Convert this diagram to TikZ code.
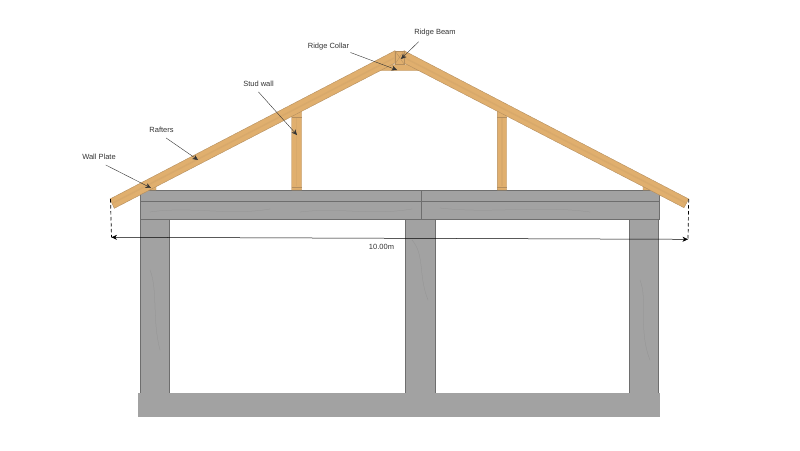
\documentclass[tikz,border=0pt]{standalone}
\usepackage{fontspec}
\setmainfont{Liberation Sans}
\usetikzlibrary{arrows.meta}
\definecolor{wood}{HTML}{E0AF6E}
\definecolor{woodedge}{HTML}{B48E5E}
\definecolor{concrete}{HTML}{A2A2A2}
\definecolor{concreteedge}{HTML}{6E6E6E}

\begin{document}
\begin{tikzpicture}[%
x=1pt,y=-1pt,
>={Stealth[length=5.5pt,width=5pt]},
timber/.style={draw=woodedge,line width=0.4pt,fill=wood},
grain/.style={draw=woodedge!18!wood,line width=1.5pt},
slab/.style={draw=concreteedge,line width=0.5pt,fill=concrete},
seam/.style={draw=concreteedge,line width=0.7pt},
crack/.style={draw=concreteedge!30!concrete,line width=0.25pt},
callout/.style={font=\fontsize{7.5}{9}\selectfont,text=black!80,inner xsep=1pt,inner ysep=5pt},
leader/.style={->,line width=0.4pt,black!80},
endline/.style={line width=0.7pt,dash pattern=on 3.5pt off 2.5pt}
]
\useasboundingbox (0,0) rectangle (800,450);

% concrete frame
\path[slab] (140,219) rectangle (169,393);
\path[slab] (405,219) rectangle (435,393);
\path[slab] (629,219) rectangle (658,393);
\path[slab] (140,190) rectangle (659,219);
\path[slab,draw=none] (138,393) rectangle (660,416.5);
\draw[seam] (140,201) -- (659,201);
\draw[seam] (421,190) -- (421,219);
\draw[crack] (150,212) .. controls (190,206) and (230,216) .. (270,209);
\draw[crack] (300,212) .. controls (340,207) and (370,216) .. (412,209);
\draw[crack] (440,208) .. controls (490,214) and (540,205) .. (590,212);
\draw[crack] (412,240) .. controls (425,255) and (418,275) .. (428,300);
\draw[crack] (150,270) .. controls (158,290) and (152,320) .. (160,350);
\draw[crack] (640,280) .. controls (648,300) and (638,330) .. (650,360);

% wall plates
\path[timber] (146,190) -- (156,184.5) -- (156,190) -- cycle;
\path[timber] (643,190) -- (643,185) -- (652,190) -- cycle;

% studs
\path[timber] (291.7,190) -- (291.7,115) -- (301.7,110) -- (301.7,190) -- cycle;
\path[timber] (497.3,190) -- (497.3,110) -- (506.7,115) -- (506.7,190) -- cycle;
\draw[grain] (296.7,118) -- (296.7,186);
\draw[grain] (502,118) -- (502,186);
\draw[woodedge] (291.7,117) -- (301.7,117) (291.7,187) -- (301.7,187);
\draw[woodedge] (497.3,117) -- (506.7,117) (497.3,187) -- (506.7,187);

% ridge
\path[timber] (377.7,70.7) -- (389,64.5) -- (408,64.5) -- (419.3,70.7) -- cycle;
\path[timber] (110,199) -- (395,50.7) -- (395,63) -- (114.3,208.3) -- cycle;
\path[timber] (404,50.7) -- (688.7,199) -- (684,207.7) -- (404,63) -- cycle;
\draw[grain] (113,203) -- (394,58);
\draw[grain] (405,58) -- (686,203);
\path[timber] (395,50.7) rectangle (404,64);
\draw[woodedge,line width=0.3pt] (395,50.7) -- (404,64) (404,50.7) -- (395,64);

% overall span
\coordinate (spanL) at (111.5,237.3);
\coordinate (spanR) at (688,239.3);
\coordinate (eaveL) at (110.5,199);
\coordinate (eaveR) at (688.7,199);
\draw[endline] (eaveL) -- (spanL);
\draw[endline] (eaveR) -- (spanR);
\draw[<->,line width=0.5pt] (spanL) -- (spanR);
\node[callout] (span) at (381.5,246.5) {10.00m};

% labels
\node[callout] (wallplate) at (99,157) {Wall Plate};
\node[callout] (rafters) at (161.5,130) {Rafters};
\node[callout] (studwall) at (258.5,84) {Stud wall};
\node[callout] (ridgecollar) at (328.5,47) {Ridge Collar};
\node[callout] (ridgebeam) at (435,33) {Ridge Beam};

\coordinate (wallplatetip) at (151,188);
\coordinate (raftertip) at (198,160);
\coordinate (studtip) at (297,135);
\coordinate (collartip) at (397,70);
\coordinate (beamtip) at (401,59);

\draw[leader] (wallplate.-50) -- (wallplatetip);
\draw[leader] (rafters.-60) -- (raftertip);
\draw[leader] (studwall.south) -- (studtip);
\draw[leader] (ridgecollar.-14) -- (collartip);
\draw[leader] (ridgebeam.208) -- (beamtip);

\end{tikzpicture}
\end{document}
